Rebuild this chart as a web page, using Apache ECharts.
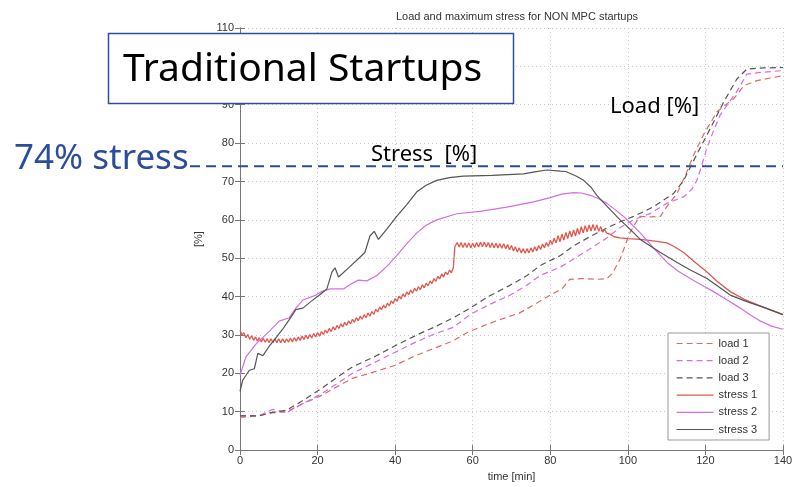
<!DOCTYPE html>
<html><head><meta charset="utf-8">
<script src="https://cdn.jsdelivr.net/npm/echarts@6/dist/echarts.min.js"></script>
<style>html,body{margin:0;padding:0;background:#fff}#c{width:796px;height:487px}</style>
</head><body><div id="c"></div>
<script>
const chartTitle = 'Load and maximum stress for NON MPC startups';
const seriesNames = ['load 1', 'load 2', 'load 3', 'stress 1', 'stress 2', 'stress 3'];
const stressLimit = 74;

const load1 = [[0,8.5],[5,9],[8,9.7],[12,10],[16,12],[20.5,14],[25,16.5],[29,18.7],[35,20.5],[40,22.1],[45,24.5],[50,26.5],[55,28.5],[58.5,30.6],[63,32.5],[67,34],[72,35.7],[76,38],[80,40.4],[83,42],[85,44.5],[88,44.7],[92,44.5],[94.6,44.7],[96,46],[98,49.8],[100.5,56.6],[103,60.9],[106,60.8],[108.4,60.9],[110,63.4],[112.7,66.9],[115,72],[117,77],[119.5,82.2],[123,88.2],[127.3,91.6],[130,95],[133.3,96.3],[137,97],[140,97.6]];
const load2 = [[0,9],[5,9],[8.4,10.6],[12,9.7],[16,12],[20.5,14.4],[25,17.3],[29,20],[35,23],[40,25.5],[45,28],[50,30.2],[55,32],[59.3,35.3],[64,37.8],[69.7,40.4],[74,43],[77.4,45.5],[82.6,47.7],[86,49.8],[90,52.3],[94.6,55.3],[98,58],[101.5,60],[105.8,61.7],[110,64.3],[114.4,66],[116.5,68],[117.8,70.3],[119,74],[120.4,78.8],[122,83],[123.8,87.3],[126,90.5],[128,93.3],[130.7,98],[135,98.5],[140,98.9]];
const load3 = [[0,8.9],[5,8.9],[7.6,9.7],[12,10.4],[16,12.8],[20.5,15.7],[25,18.9],[29,21.7],[35,24.5],[40,27.2],[46,30.2],[50,32],[55,34.5],[59.3,37],[64,40],[69.7,43],[74,45.5],[77.4,48.1],[82.6,50.7],[86,53.2],[90,55.5],[94.6,57.9],[98,59.5],[101.5,60.9],[106.6,63.4],[111.8,66.9],[114.4,70.3],[117.8,77.1],[121.3,83.9],[124.7,90.7],[128.1,96.7],[130.7,99.3],[135,99.6],[140,99.7]];
const stress1 = [[0,31.3],[0.5,30.0],[1,30.6],[1.5,29.3],[2,30.1],[2.5,28.9],[3,29.8],[3.5,28.6],[4,29.5],[4.5,28.4],[5,29.3],[5.5,28.2],[6,29.1],[6.5,28.1],[7,29.0],[7.5,28.0],[8,29.0],[8.5,28.0],[9,29.0],[9.5,28.0],[10,29.0],[10.5,28.0],[11,29.0],[11.5,28.0],[12,29.0],[12.5,28.1],[13,29.2],[13.5,28.2],[14,29.3],[14.5,28.4],[15,29.5],[15.5,28.6],[16,29.7],[16.5,28.8],[17,29.9],[17.5,29.0],[18,30.1],[18.5,29.2],[19,30.4],[19.5,29.5],[20,30.6],[20.5,29.7],[21,30.9],[21.5,30.1],[22,31.3],[22.5,30.5],[23,31.7],[23.5,30.9],[24,32.1],[24.5,31.3],[25,32.5],[25.5,31.7],[26,32.9],[26.5,32.1],[27,33.3],[27.5,32.5],[28,33.7],[28.5,32.9],[29,34.1],[29.5,33.3],[30,34.5],[30.5,33.7],[31,34.9],[31.5,34.1],[32,35.3],[32.5,34.5],[33,35.7],[33.5,34.9],[34,36.1],[34.5,35.4],[35,36.7],[35.5,36.0],[36,37.3],[36.5,36.6],[37,37.8],[37.5,37.0],[38,38.3],[38.5,37.6],[39,38.9],[39.5,38.2],[40,39.5],[40.5,38.8],[41,40.1],[41.5,39.4],[42,40.7],[42.5,39.9],[43,41.2],[43.5,40.5],[44,41.7],[44.5,40.9],[45,42.2],[45.5,41.4],[46,42.6],[46.5,41.8],[47,43.1],[47.5,42.3],[48,43.5],[48.5,42.8],[49,44.1],[49.5,43.4],[50,44.7],[50.5,44.0],[51,45.3],[51.5,44.6],[52,45.9],[52.5,45.1],[53,46.4],[53.5,45.7],[54,46.9],[54.5,46.2],[55,47.5],[55.4,53.0],[56,54.1],[56.5,52.9],[57,54.1],[57.5,52.8],[58,54.0],[58.5,52.8],[59,54.0],[59.5,52.7],[60,53.9],[60.5,52.8],[61,54.1],[61.5,52.9],[62,54.2],[62.5,53.0],[63,54.2],[63.5,52.9],[64,54.1],[64.5,52.8],[65,54.0],[65.5,52.7],[66,53.9],[66.5,52.7],[67,53.8],[67.5,52.6],[68,53.8],[68.5,52.5],[69,53.6],[69.5,52.2],[70,53.3],[70.5,51.9],[71,53.0],[71.5,51.6],[72,52.7],[72.5,51.4],[73,52.5],[73.5,51.3],[74,52.5],[74.5,51.4],[75,52.7],[75.5,51.6],[76,53.0],[76.5,51.9],[77,53.3],[77.5,52.3],[78,53.7],[78.5,52.7],[79,54.1],[79.5,53.1],[80,54.7],[80.5,53.6],[81,55.2],[81.5,54.0],[82,55.9],[82.5,54.3],[83,56.3],[83.5,54.7],[84,56.7],[84.5,55.1],[85,57.1],[85.5,55.5],[86,57.4],[86.5,55.8],[87,57.8],[87.5,56.2],[88,58.2],[88.5,56.6],[89,58.5],[89.5,56.9],[90,58.7],[90.5,57.1],[91,58.8],[91.5,57.2],[92,58.7],[92.5,57.0],[93,58.3],[93.5,56.8],[94,57.5],[94.5,56.6],[95.5,56.2],[96.5,55.6],[98,55.3],[100,55.1],[103.2,54.9],[106,54.6],[110.1,54.0],[112,53.0],[114.4,51.5],[117,49.2],[120.4,46.4],[123,44.0],[126.4,41.3],[130,39.3],[133.3,37.9],[137,36.5],[140,35.3]];
const stress2 = [[0,19.5],[1.5,24.2],[4.1,27.6],[7.6,31],[10.1,33.6],[12.7,34.5],[14.4,37],[16.2,39.1],[19.6,40.4],[21,41.3],[23.2,42],[26.7,42],[28.5,43.2],[30.5,44.3],[32.7,44.1],[35.3,45.5],[38,48],[40.4,50.7],[43,53.8],[45.6,56.6],[48,58.6],[50.7,60],[55.9,61.6],[61.9,62.2],[68.8,63.3],[75.7,64.7],[80,65.8],[83,66.7],[86,67.1],[88,67],[90.3,66.4],[92.5,65.5],[94.6,64.3],[96.8,62.6],[98.9,60.9],[101,58.8],[103.2,56.6],[106.5,52.8],[110.1,48.9],[113,46.6],[116.1,44.7],[119,43],[122.1,41.3],[125.5,39.2],[129,37],[131.5,35.3],[134.2,33.6],[137,32.3],[140,31.5]];
const stress3 = [[0,15.3],[0.7,18.2],[2.4,20.8],[3.7,21.2],[4.6,25.2],[5.9,24.6],[7.5,27],[9.3,29.3],[11,31.5],[12.7,34],[14.4,36.6],[16.2,37],[18,38.5],[20.5,40.4],[22.4,42],[23.7,46.4],[24.5,47.5],[25.4,45.1],[28,47.5],[32.2,51.5],[33.5,55.8],[34.6,57],[35.7,54.9],[38,57.8],[40.4,60.9],[43,64],[45.6,67.3],[48,69],[50.7,70.3],[54,71],[57.6,71.4],[65,71.6],[73.1,72],[76,72.5],[79.1,73],[82.6,72.7],[84,72.6],[86.5,71.5],[88.6,70.3],[90.5,68.5],[92,66.4],[95.5,62.6],[98,60],[99.8,58.3],[103.2,54.9],[108.4,51.5],[112.7,48.9],[116,47],[120.4,44.7],[126.4,40.4],[130.7,38.7],[135,37.2],[140,35.3]];

const colors = ['#de6b62', '#d86ae4', '#555555', '#e0584f', '#d66ee2', '#555555'];
const allData = [load1, load2, load3, stress1, stress2, stress3];

const chart = echarts.init(document.getElementById('c'), null, {renderer: 'canvas'});
const baseFont = 'Liberation Sans, Arial, sans-serif';
const tickStyle = {show: true, inside: true, length: 5, lineStyle: {color: '#777'}};
const series = allData.map((d, i) => ({
  name: seriesNames[i], type: 'line', data: d, symbol: 'none', showSymbol: false, smooth: false,
  animation: false, xAxisIndex: 0, yAxisIndex: 0,
  lineStyle: {color: colors[i], width: i === 3 ? 1.3 : 1.2, type: i < 3 ? [6, 4] : 'solid'},
  itemStyle: {color: colors[i]}, z: 3
}));

chart.setOption({
  animation: false,
  textStyle: {fontFamily: baseFont},
  title: {text: chartTitle, left: 512, top: 6, textAlign: 'center',
    textStyle: {fontSize: 11, fontWeight: 'normal', color: '#333', fontFamily: baseFont}},
  grid: {left: 240, right: 13, top: 28, bottom: 29, containLabel: false},
  legend: {
    orient: 'vertical', left: 668, top: 333, data: seriesNames,
    itemWidth: 37, itemHeight: 10, itemGap: 6.2, padding: [5, 12, 5, 8],
    borderColor: '#999', borderWidth: 1, backgroundColor: '#fff',
    itemStyle: {opacity: 0}, lineStyle: {width: 1.2},
    textStyle: {fontSize: 11, color: '#333', fontFamily: baseFont}, selectedMode: false
  },
  xAxis: [
    {type: 'value', min: 0, max: 140, interval: 20, position: 'bottom',
      name: 'time [min]', nameLocation: 'middle', nameGap: 17,
      nameTextStyle: {fontSize: 11, color: '#333'},
      axisLine: {show: true, lineStyle: {color: '#777', width: 1}},
      axisTick: tickStyle,
      axisLabel: {fontSize: 11, color: '#333', margin: 5},
      splitLine: {show: true, lineStyle: {color: '#c8c8c8', type: [1, 3], width: 1}}},
    {type: 'value', min: 0, max: 140, interval: 20, position: 'top',
      axisLine: {show: true, lineStyle: {color: '#777', width: 1}},
      axisTick: tickStyle, axisLabel: {show: false}, splitLine: {show: false}}
  ],
  yAxis: [
    {type: 'value', min: 0, max: 110, interval: 10, position: 'left',
      name: '[%]', nameLocation: 'middle', nameGap: 29, nameRotate: 90,
      nameTextStyle: {fontSize: 11, color: '#333'},
      axisLine: {show: true, lineStyle: {color: '#777', width: 1}},
      axisTick: tickStyle,
      axisLabel: {fontSize: 11, color: '#333', margin: 6},
      splitLine: {show: true, lineStyle: {color: '#c8c8c8', type: [1, 3], width: 1}}},
    {type: 'value', min: 0, max: 110, interval: 10, position: 'right',
      axisLine: {show: true, lineStyle: {color: '#777', width: 1}},
      axisTick: tickStyle, axisLabel: {show: false}, splitLine: {show: false}}
  ],
  series: series
});

const yLimit = chart.convertToPixel({yAxisIndex: 0}, stressLimit);
const xRight = chart.convertToPixel({xAxisIndex: 0}, 140);
const annFont = '"Noto Sans", "Open Sans", sans-serif';
chart.setOption({
  graphic: [
    {type: 'line', z: 50, shape: {x1: 190, y1: yLimit, x2: xRight, y2: yLimit},
      style: {stroke: '#2c4d9c', lineWidth: 2, lineDash: [10, 6]}},
    {type: 'rect', z: 60, shape: {x: 108.5, y: 33.5, width: 405, height: 70},
      style: {fill: '#fff', stroke: '#2e4f9f', lineWidth: 1.5}},
    {type: 'text', z: 61, x: 123, y: 70,
      style: {text: 'Traditional Startups', font: '39px ' + annFont, fill: '#000', textVerticalAlign: 'middle', textBaseline: 'middle'}},
    {type: 'text', z: 61, x: 14, y: 159,
      style: {text: '74% stress', font: '35px ' + annFont, fill: '#2c4d9c', textBaseline: 'middle', textVerticalAlign: 'middle'}},
    {type: 'text', z: 61, x: 371, y: 155,
      style: {text: 'Stress  [%]', font: '22px ' + annFont, fill: '#000', textBaseline: 'middle', textVerticalAlign: 'middle'}},
    {type: 'text', z: 61, x: 610, y: 107,
      style: {text: 'Load [%]', font: '22px ' + annFont, fill: '#000', textBaseline: 'middle', textVerticalAlign: 'middle'}}
  ]
});
</script>
</body></html>
